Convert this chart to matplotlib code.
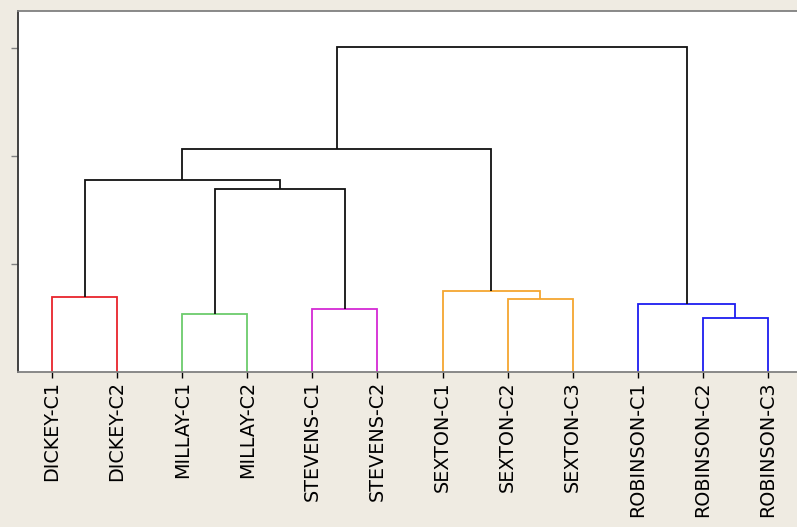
"""Hierarchical clustering dendrogram of poem samples."""
import matplotlib
matplotlib.use("Agg")
import matplotlib.pyplot as plt

labels = ["DICKEY-C1", "DICKEY-C2", "MILLAY-C1", "MILLAY-C2",
          "STEVENS-C1", "STEVENS-C2", "SEXTON-C1", "SEXTON-C2", "SEXTON-C3",
          "ROBINSON-C1", "ROBINSON-C2", "ROBINSON-C3"]
leaf_groups = ["red", "red", "green", "green", "magenta", "magenta",
               "orange", "orange", "orange", "blue", "blue", "blue"]
# merges: (child a, child b, height); ids 0..11 are leaves, 12+ new clusters
merges = [
    (0, 1, 0.697),    # 12
    (2, 3, 0.537),    # 13
    (4, 5, 0.583),    # 14
    (7, 8, 0.676),    # 15
    (6, 15, 0.750),   # 16
    (10, 11, 0.497),  # 17
    (9, 17, 0.630),   # 18
    (13, 14, 1.694),  # 19
    (12, 19, 1.778),  # 20
    (20, 16, 2.062),  # 21
    (21, 18, 3.012),  # 22
]
palette = {"red": "#e8242c", "green": "#6ccc6c", "magenta": "#d42ad4",
           "orange": "#f4a630", "blue": "#1c1cf0", None: "#111111"}

BG = "#efebe2"
fig = plt.figure(figsize=(7.97, 5.27), dpi=100, facecolor=BG)
ax = fig.add_axes([18 / 797, 1 - 372 / 527, 779 / 797, 361 / 527])
ax.set_facecolor("white")

# positions / heights / colour group of every node
xs = [5 + 10 * i for i in range(len(labels))]
hs = [0.0] * len(labels)
grp = list(leaf_groups)
for a, b, h in merges:
    g = grp[a] if grp[a] == grp[b] else None
    c = palette[g]
    ax.plot([xs[a], xs[a], xs[b], xs[b]], [hs[a], h, h, hs[b]],
            color=c, lw=1.3, solid_joinstyle="miter", solid_capstyle="butt")
    xs.append((xs[a] + xs[b]) / 2)
    hs.append(h)
    grp.append(g)

ax.set_xlim(-0.22, 119.46)
ax.set_ylim(0, 3.343)
ax.set_yticks([1, 2, 3])
ax.set_yticklabels([])
ax.tick_params(axis="y", length=5, width=1, color="#808080", direction="out")

ax.set_xticks([5 + 10 * i for i in range(len(labels))])
ax.set_xticklabels(labels, rotation=90, fontsize=13.8, family="DejaVu Sans",
                   va="top", ha="center")
ax.tick_params(axis="x", length=4.5, width=1, pad=2, direction="out")
for t, g in zip(ax.xaxis.get_major_ticks(), leaf_groups):
    t.tick1line.set_color(palette[g])

ax.spines["left"].set_color("#333333")
ax.spines["top"].set_color("#808080")
ax.spines["bottom"].set_color("#808080")
ax.spines["right"].set_visible(False)
for s in ax.spines.values():
    s.set_linewidth(1.3)

fig.savefig("out.png", dpi=100, facecolor=BG)
